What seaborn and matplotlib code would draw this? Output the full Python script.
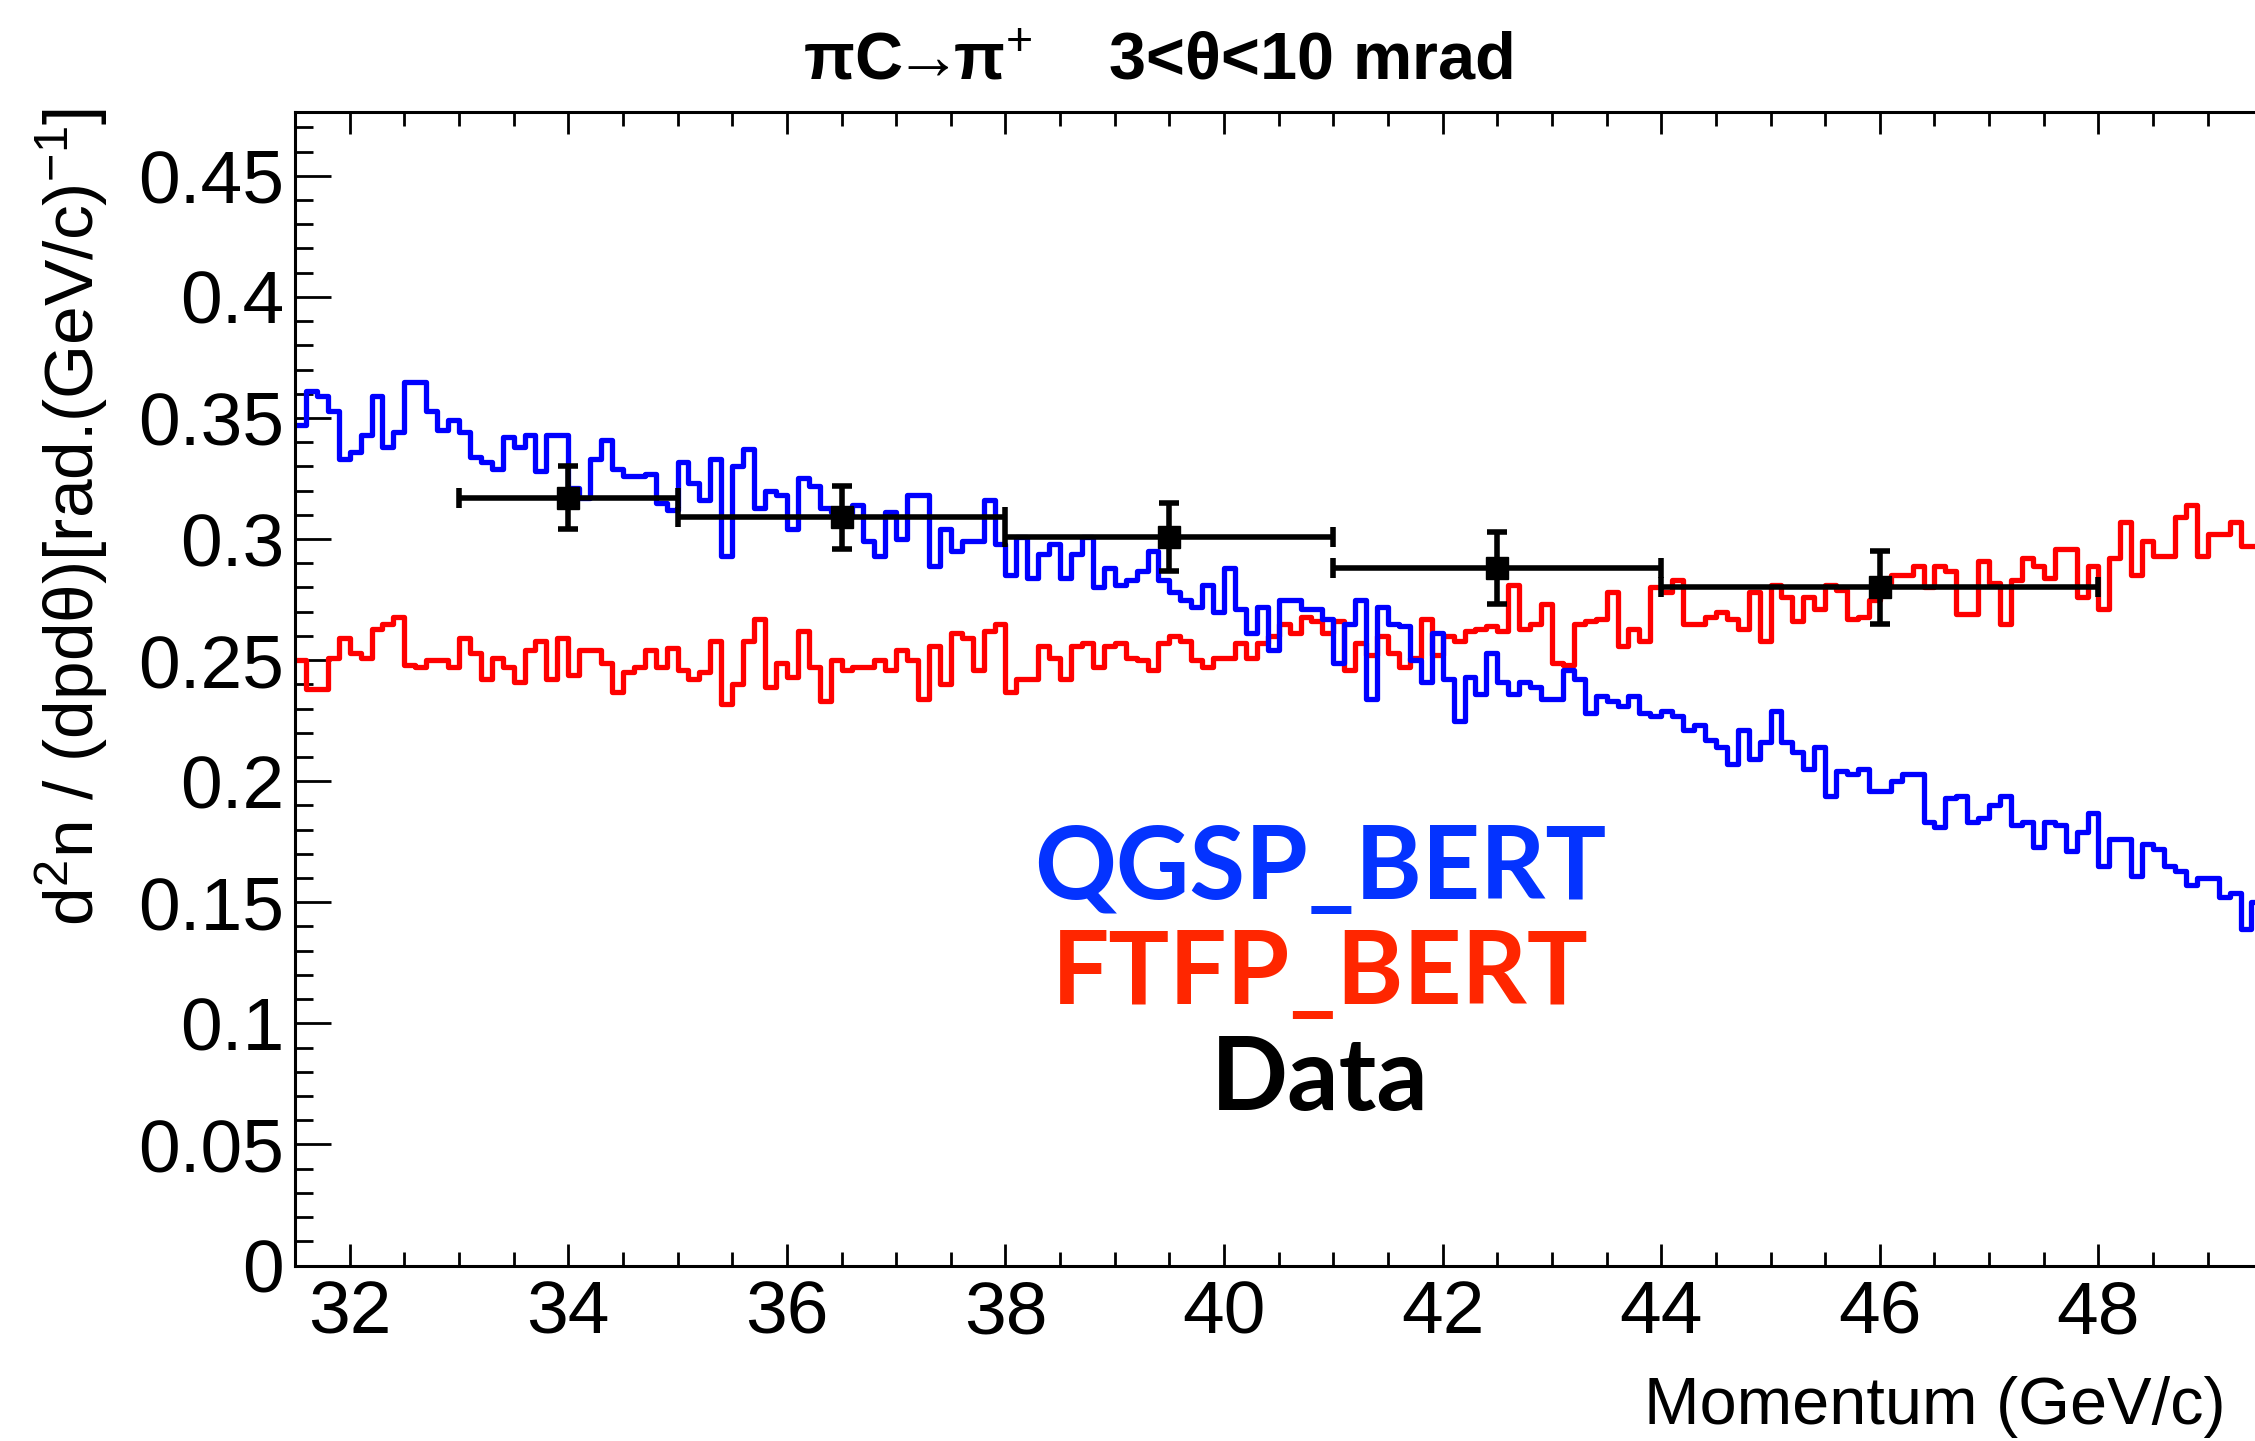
import numpy as np
import pandas as pd
import matplotlib
matplotlib.use("Agg")
import matplotlib.pyplot as plt
from matplotlib.ticker import MultipleLocator, FuncFormatter
import seaborn as sns

# ── Style ─────────────────────────────────────────────────
sns.set_style("ticks")
plt.rcParams["font.family"] = ["Liberation Sans", "DejaVu Sans"]
plt.rcParams["mathtext.fontset"] = "custom"
plt.rcParams["mathtext.rm"] = "Liberation Sans"
plt.rcParams["mathtext.it"] = "Liberation Sans:italic"
plt.rcParams["mathtext.bf"] = "Liberation Sans:bold"
for key in ["text.color", "axes.labelcolor", "xtick.color", "ytick.color",
            "axes.edgecolor"]:
    plt.rcParams[key] = "black"

# ── Data ──────────────────────────────────────────────────
# momentum histograms, 0.1 GeV/c bins starting at 31.5 GeV/c
BIN_LO = 31.5
BIN_W = 0.1

qgsp_bert = [
    0.347, 0.361, 0.359, 0.353, 0.333, 0.336, 0.343, 0.359, 0.338, 0.344,
    0.365, 0.365, 0.353, 0.345, 0.349, 0.344, 0.334, 0.332, 0.329, 0.342,
    0.338, 0.343, 0.328, 0.343, 0.343, 0.321, 0.317, 0.333, 0.341, 0.329,
    0.326, 0.326, 0.327, 0.315, 0.312, 0.332, 0.323, 0.316, 0.333, 0.293,
    0.330, 0.337, 0.313, 0.320, 0.318, 0.304, 0.325, 0.322, 0.313, 0.311,
    0.309, 0.314, 0.299, 0.293, 0.311, 0.300, 0.318, 0.318, 0.289, 0.304,
    0.295, 0.299, 0.299, 0.316, 0.298, 0.285, 0.301, 0.284, 0.294, 0.298,
    0.284, 0.294, 0.301, 0.280, 0.288, 0.281, 0.283, 0.287, 0.295, 0.283,
    0.278, 0.275, 0.272, 0.281, 0.270, 0.288, 0.271, 0.261, 0.272, 0.254,
    0.275, 0.275, 0.271, 0.271, 0.267, 0.249, 0.265, 0.275, 0.234, 0.272,
    0.265, 0.264, 0.250, 0.241, 0.261, 0.242, 0.225, 0.243, 0.236, 0.253,
    0.241, 0.236, 0.241, 0.239, 0.234, 0.234, 0.246, 0.242, 0.228, 0.235,
    0.233, 0.231, 0.235, 0.228, 0.227, 0.229, 0.227, 0.221, 0.223, 0.217,
    0.214, 0.207, 0.221, 0.209, 0.216, 0.229, 0.216, 0.212, 0.205, 0.214,
    0.194, 0.204, 0.203, 0.205, 0.196, 0.196, 0.200, 0.203, 0.203, 0.183,
    0.181, 0.193, 0.194, 0.183, 0.185, 0.190, 0.194, 0.182, 0.183, 0.173,
    0.183, 0.182, 0.171, 0.179, 0.187, 0.165, 0.176, 0.176, 0.161, 0.174,
    0.172, 0.165, 0.163, 0.157, 0.160, 0.160, 0.152, 0.154, 0.139, 0.150,
]

ftfp_bert = [
    0.250, 0.238, 0.238, 0.251, 0.259, 0.253, 0.251, 0.263, 0.265, 0.268,
    0.248, 0.247, 0.250, 0.250, 0.247, 0.259, 0.253, 0.242, 0.251, 0.247,
    0.241, 0.254, 0.258, 0.242, 0.259, 0.244, 0.254, 0.254, 0.249, 0.237,
    0.245, 0.247, 0.254, 0.247, 0.255, 0.246, 0.242, 0.245, 0.258, 0.232,
    0.240, 0.258, 0.267, 0.239, 0.249, 0.243, 0.262, 0.247, 0.233, 0.250,
    0.246, 0.247, 0.247, 0.250, 0.246, 0.254, 0.250, 0.234, 0.256, 0.240,
    0.261, 0.259, 0.246, 0.262, 0.265, 0.237, 0.242, 0.242, 0.256, 0.251,
    0.242, 0.256, 0.257, 0.247, 0.256, 0.257, 0.251, 0.250, 0.246, 0.257,
    0.260, 0.258, 0.250, 0.247, 0.251, 0.251, 0.257, 0.251, 0.257, 0.260,
    0.265, 0.261, 0.268, 0.266, 0.261, 0.266, 0.246, 0.257, 0.252, 0.260,
    0.253, 0.247, 0.251, 0.267, 0.252, 0.260, 0.258, 0.262, 0.263, 0.264,
    0.262, 0.281, 0.263, 0.265, 0.273, 0.249, 0.248, 0.265, 0.266, 0.267,
    0.278, 0.256, 0.263, 0.258, 0.280, 0.278, 0.283, 0.265, 0.265, 0.268,
    0.270, 0.267, 0.263, 0.278, 0.258, 0.281, 0.276, 0.266, 0.276, 0.271,
    0.281, 0.279, 0.267, 0.268, 0.275, 0.282, 0.285, 0.285, 0.289, 0.280,
    0.289, 0.287, 0.269, 0.269, 0.291, 0.282, 0.265, 0.283, 0.292, 0.289,
    0.284, 0.296, 0.296, 0.276, 0.289, 0.271, 0.292, 0.307, 0.285, 0.299,
    0.293, 0.293, 0.309, 0.314, 0.293, 0.302, 0.302, 0.307, 0.297, 0.297,
]

# measured points (bin centre, bin range, value, stat error)
data_p   = [34.0, 36.5, 39.5, 42.5, 46.0]
data_lo  = [33.0, 35.0, 38.0, 41.0, 44.0]
data_hi  = [35.0, 38.0, 41.0, 44.0, 48.0]
data_val = [0.317, 0.309, 0.301, 0.288, 0.280]
data_err = [0.013, 0.013, 0.014, 0.015, 0.015]

n_bins = len(qgsp_bert)
edges = BIN_LO + BIN_W * np.arange(n_bins + 1)
centers = 0.5 * (edges[:-1] + edges[1:])
df = pd.DataFrame({"p": centers, "qgsp": qgsp_bert, "ftfp": ftfp_bert})

# ── Figure ────────────────────────────────────────────────
W, H = 2255, 1441
fig = plt.figure(figsize=(W / 100, H / 100), dpi=100)
ax = fig.add_axes([295 / W, 1 - 1265.5 / H, 1 - 295 / W, (1265.5 - 112) / H])

sns.histplot(data=df, x="p", weights="ftfp", bins=list(edges), element="step",
             fill=False, color="#FF0000", linewidth=3.8, ax=ax)
sns.histplot(data=df, x="p", weights="qgsp", bins=list(edges), element="step",
             fill=False, color="#0000FF", linewidth=3.8, ax=ax)

xerr = [np.subtract(data_p, data_lo), np.subtract(data_hi, data_p)]
ax.errorbar(data_p, data_val, xerr=xerr, yerr=data_err, fmt="s",
            color="black", ms=16, elinewidth=4, capsize=7, capthick=4,
            zorder=5)

ax.set_xlim(31.5, 31.5 + (W - 295) / 109.3)
ax.set_ylim(0, (1265.5 - 112) / 2421.6)
ax.set_xlabel("")
ax.set_ylabel("")

# ROOT-like frame
ax.spines["right"].set_visible(False)
for s in ["left", "bottom", "top"]:
    ax.spines[s].set_linewidth(2.2)
ax.xaxis.set_major_locator(MultipleLocator(2))
ax.xaxis.set_minor_locator(MultipleLocator(0.5))
ax.yaxis.set_major_locator(MultipleLocator(0.05))
ax.yaxis.set_minor_locator(MultipleLocator(0.01))
ax.xaxis.set_major_formatter(FuncFormatter(lambda v, _: f"{v:g}"))
ax.yaxis.set_major_formatter(FuncFormatter(lambda v, _: f"{v:g}"))
ax.tick_params(which="both", direction="in", top=True, right=False, color="black")
ax.tick_params(axis="x", which="major", length=16, width=2, labelsize=54, pad=10)
ax.tick_params(axis="x", which="minor", length=10, width=2)
ax.tick_params(axis="y", which="major", length=26, width=2, labelsize=54, pad=8)
ax.tick_params(axis="y", which="minor", length=13, width=2)

# titles
fig.text(1158 / W, 1 - 79 / H, r"πC$\!\!\rightarrow\!\!$π$^{+}$    3<θ<10 mrad",
         ha="center", va="baseline", fontsize=48, fontweight="bold")
fig.text(72 / W, 1 - 108 / H, "d$^{2}$n / (dpdθ)[rad.(GeV/c)$^{-1}$]",
         rotation=90, ha="center", va="top", fontsize=50)
fig.text(2226 / W, 1 - 1424 / H, "Momentum (GeV/c)",
         ha="right", va="baseline", fontsize=48)

# legend as coloured words
leg_font = ["Lato", "DejaVu Sans"]
fig.text(1320 / W, 1 - 899 / H, "QGSP_BERT", color="#0433FF", ha="center",
         va="baseline", fontsize=73, fontweight="bold", family=leg_font)
fig.text(1320 / W, 1 - 1004 / H, "FTFP_BERT", color="#FF2600", ha="center",
         va="baseline", fontsize=73, fontweight="bold", family=leg_font)
fig.text(1320 / W, 1 - 1110 / H, "Data", color="black", ha="center",
         va="baseline", fontsize=73, fontweight="bold", family=leg_font)

fig.savefig("out.png", dpi=100)
